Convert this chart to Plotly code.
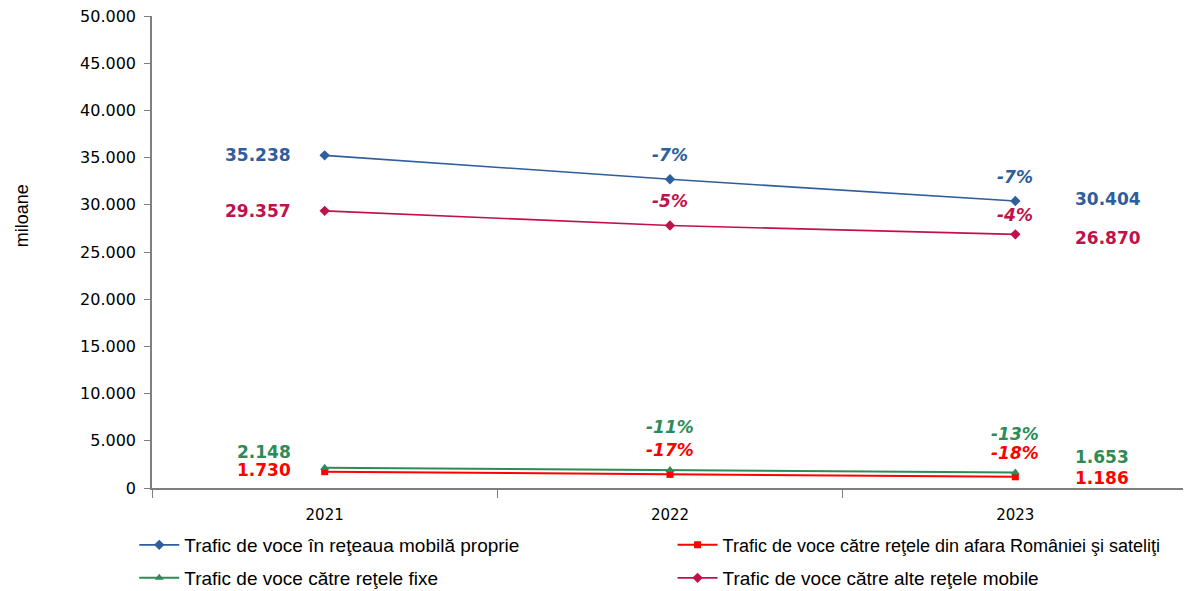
import plotly.graph_objects as go

# Data (milioane minute)
years = ["2021", "2022", "2023"]
proprie = [35238, 32700, 30404]
international = [1730, 1440, 1186]
fixe = [2148, 1905, 1653]
alte_mobile = [29357, 27800, 26870]

val_labels = {
    "proprie": ["35.238", "30.404"],
    "international": ["1.730", "1.186"],
    "fixe": ["2.148", "1.653"],
    "alte_mobile": ["29.357", "26.870"],
}
pct_labels = {
    "proprie": ["-7%", "-7%"],
    "international": ["-17%", "-18%"],
    "fixe": ["-11%", "-13%"],
    "alte_mobile": ["-5%", "-4%"],
}

BLUE = "#2F5E9C"
RED = "#FF0000"
GREEN = "#2E8B57"
CRIMSON = "#C0124A"

fig = go.Figure()
fig.add_trace(go.Scatter(x=years, y=proprie, mode="lines+markers", name="Trafic de voce în reţeaua mobilă proprie",
                         line=dict(color=BLUE, width=1.6), marker=dict(symbol="diamond", size=8, color=BLUE),
                         legend="legend"))
fig.add_trace(go.Scatter(x=years, y=international, mode="lines+markers",
                         name="Trafic de voce către reţele din afara României şi sateliţi",
                         line=dict(color=RED, width=2), marker=dict(symbol="square", size=7, color=RED),
                         legend="legend2"))
fig.add_trace(go.Scatter(x=years, y=fixe, mode="lines+markers", name="Trafic de voce către reţele fixe",
                         line=dict(color=GREEN, width=2), marker=dict(symbol="triangle-up", size=8, color=GREEN),
                         legend="legend3"))
fig.add_trace(go.Scatter(x=years, y=alte_mobile, mode="lines+markers", name="Trafic de voce către alte reţele mobile",
                         line=dict(color=CRIMSON, width=1.6), marker=dict(symbol="diamond", size=8, color=CRIMSON),
                         legend="legend4"))

# key, values, colour, yshift of first/last value label, yshift of the two % labels
series = [
    ("proprie", proprie, BLUE, 0, 2, 24, 24),
    ("alte_mobile", alte_mobile, CRIMSON, 0, -4, 25, 19),
    ("fixe", fixe, GREEN, 16, 15, 43, 38),
    ("international", international, RED, 2, -1, 24, 24),
]

lab_font = "DejaVu Sans"
for key, vals, col, dy0, dy1, py1, py2 in series:
    # value labels at first and last year (x given as category index)
    fig.add_annotation(x=0, y=vals[0], text="<b>%s</b>" % val_labels[key][0], showarrow=False,
                       xanchor="right", xshift=-32, yshift=dy0, font=dict(color=col, size=17, family=lab_font))
    fig.add_annotation(x=2, y=vals[2], text="<b>%s</b>" % val_labels[key][1], showarrow=False,
                       xanchor="left", xshift=58, yshift=dy1, font=dict(color=col, size=17, family=lab_font))
    # percent change labels
    fig.add_annotation(x=1, y=vals[1], text="<b><i>%s</i></b>" % pct_labels[key][0], showarrow=False,
                       yshift=py1, font=dict(color=col, size=17, family=lab_font))
    fig.add_annotation(x=2, y=vals[2], text="<b><i>%s</i></b>" % pct_labels[key][1], showarrow=False,
                       yshift=py2, font=dict(color=col, size=17, family=lab_font))

fig.add_annotation(x=-0.1255, y=0.578, xref="paper", yref="paper", text="miloane", textangle=-90,
                   xanchor="center", yanchor="middle",
                   showarrow=False, font=dict(size=18, family="Liberation Sans", color="black"))

legend_font = dict(family="Liberation Sans", size=19, color="black")
leg = dict(orientation="h", xanchor="left", yanchor="middle", xref="container", yref="container",
           itemwidth=40, font=legend_font, bgcolor="rgba(0,0,0,0)", borderwidth=0)

# the page body adds an 8px offset, so margins are trimmed by 8px on top/left
fig.update_layout(
    width=1191,
    height=591,
    margin=dict(l=144, r=11, t=8, b=111, autoexpand=False),
    plot_bgcolor="white",
    paper_bgcolor="white",
    separators=",.",
    font=dict(family="DejaVu Sans", size=15, color="black"),
    showlegend=True,
    legend=dict(leg, x=0.106, y=0.0914),
    legend2=dict(leg, x=0.558, y=0.0914, font=dict(legend_font, size=18)),
    legend3=dict(leg, x=0.106, y=0.0355),
    legend4=dict(leg, x=0.558, y=0.0355),
)

fig.update_xaxes(
    type="category", range=[-0.5, 2.5], automargin=False,
    showline=True, linecolor="#7F7F7F", linewidth=1.5,
    ticks="outside", tickson="boundaries", ticklen=8, tickcolor="#7F7F7F",
    ticklabelstandoff=12,
    showgrid=False, tickangle=0, tickfont=dict(size=15, family="DejaVu Sans"),
)
fig.update_yaxes(
    range=[0, 50000], dtick=5000, tickformat=",d", automargin=False,
    ticklabeloverflow="allow", ticklabelstandoff=5,
    showline=True, linecolor="#7F7F7F", linewidth=1.5,
    ticks="outside", ticklen=6, tickcolor="#7F7F7F",
    showgrid=False, zeroline=False, tickfont=dict(size=16, family="DejaVu Sans"),
)

fig.write_html("out.html")
